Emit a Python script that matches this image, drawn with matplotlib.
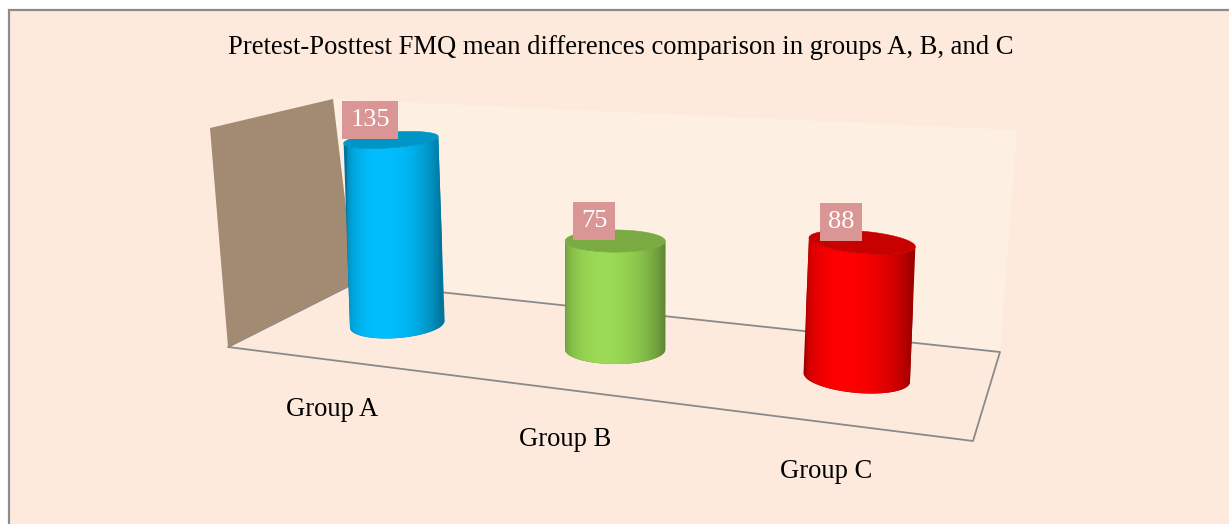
import numpy as np
import matplotlib.pyplot as plt
from matplotlib.patches import Polygon, Rectangle
from matplotlib.colors import to_rgb

# chart data
categories = ["Group A", "Group B", "Group C"]
values = [135, 75, 88]
value_labels = ["135", "75", "88"]
bar_colors = ["#00BFFF", "#9BDB55", "#FF0000"]
axis_max = 150
title = "Pretest-Posttest FMQ mean differences comparison in groups A, B, and C"

plt.rcParams["font.family"] = ["Liberation Serif", "DejaVu Serif"]

# pixel corners of the 3D plot box (floor and wall tops)
BL, BR, FR, FL = (355, 283), (1000, 352), (973, 441), (228, 347)
BLt, BRt, FLt = (333, 99), (1017, 130), (210, 128)
# vertical vanishing point and height scale (px for axis_max vs floor y)
VP = (610, 6490)
H0, H_SLOPE, Y0 = 185.0, 0.48, 283.0
# cylinder radius relative to the height scale, floor foreshortening,
# horizon the ellipses flatten towards, and ellipse tilt away from centre
RADIUS = 0.231
FLAT0, Y_HORIZON = 0.29, -107.0
TILT_K = 0.00034


def homography(dst):
    src = [(0, 0), (1, 0), (1, 1), (0, 1)]
    A, b = [], []
    for (x, y), (u, v) in zip(src, dst):
        A.append([x, y, 1, 0, 0, 0, -u * x, -u * y])
        b.append(u)
        A.append([0, 0, 0, x, y, 1, -v * x, -v * y])
        b.append(v)
    h = np.linalg.solve(np.array(A, float), np.array(b, float))
    return np.append(h, 1).reshape(3, 3)


H_floor = homography([BL, BR, FR, FL])


def floor_xy(s, t):
    H = H_floor
    w = H[2, 0] * s + H[2, 1] * t + H[2, 2]
    x = (H[0, 0] * s + H[0, 1] * t + H[0, 2]) / w
    y = (H[1, 0] * s + H[1, 1] * t + H[1, 2]) / w
    return np.array([x, y])


def full_height(y):
    return H0 + H_SLOPE * (y - Y0)


def project(s, t, z):
    fx, fy = floor_xy(s, t)
    h = z / axis_max * full_height(fy)
    dx = (fx - VP[0]) / (VP[1] - fy)
    return np.array([fx + h * dx, fy - h])


fig = plt.figure(figsize=(12.29, 5.24), dpi=100, facecolor="white")
ax = fig.add_axes([0, 0, 1, 1])
ax.set_xlim(0, 1229)
ax.set_ylim(524, 0)
ax.axis("off")

# chart area
ax.add_patch(Rectangle((8.5, 9.5), 1300, 600, facecolor="#FDEADD",
                       edgecolor="#8C8C8C", linewidth=1.6, zorder=0))

# walls and floor
ax.add_patch(Polygon([BL, BR, BRt, BLt], closed=True, facecolor="#FEEFE3",
                     edgecolor="none", zorder=1))
floor_x, floor_y = zip(BL, BR, FR, FL, BL)
ax.plot(floor_x, floor_y, color="#8A8A8A", linewidth=1.3, zorder=2)
ax.add_patch(Polygon([FL, BL, BLt, FLt], closed=True, facecolor="#A38A73",
                     edgecolor="none", zorder=3))

# cylinders
light = np.array([-0.25, 1.0])
light = light / np.linalg.norm(light)
theta = np.linspace(0, 2 * np.pi, 241)
front = np.linspace(0, np.pi, 121)
n_cat = len(categories)

# horizontal shading profile across a cylinder (left edge to right edge)
cos_x = np.linspace(-1, 1, 400)
sin_x = np.sqrt(1 - cos_x ** 2)
shade = 0.62 + 0.38 * np.clip(cos_x * light[0] + sin_x * light[1], 0, 1) ** 1.2

for i, (val, col) in enumerate(zip(values, bar_colors)):
    sc = (i + 0.5) / n_cat
    tc = 0.5
    c0 = floor_xy(sc, tc)
    c1 = project(sc, tc, val)
    r = RADIUS * full_height(c0[1])
    tilt = TILT_K * (c0[0] - VP[0])
    b0 = FLAT0 * r
    b1 = b0 * (c1[1] - Y_HORIZON) / (c0[1] - Y_HORIZON)
    base = np.array(to_rgb(col))
    z = 4 + i

    def ellipse(c, b, ang):
        return np.column_stack([c[0] + r * np.cos(ang),
                                c[1] + r * tilt * np.cos(ang) + b * np.sin(ang)])

    # side: front half of bottom ellipse, back along front half of top
    side_pts = np.vstack([ellipse(c0, b0, front), ellipse(c1, b1, front[::-1])])
    side = Polygon(side_pts, closed=True, facecolor=base * 0.62,
                   edgecolor="none", zorder=z)
    ax.add_patch(side)
    xm = 0.5 * (c0[0] + c1[0])
    img = np.clip(base[None, None, :] * shade[None, :, None], 0, 1)
    im = ax.imshow(img, extent=(xm - r, xm + r, c0[1] + b0 + 2, c1[1] - b1 - 2),
                   aspect="auto", interpolation="bilinear", zorder=z + 0.1)
    im.set_clip_path(side)

    top = ellipse(c1, b1, theta)
    ax.add_patch(Polygon(top, closed=True, facecolor=base * 0.78,
                         edgecolor=base * 0.78, linewidth=0.4, zorder=z + 0.2))

    # value label
    ax.annotate(value_labels[i], tuple(c1), xytext=(-21, 20),
                textcoords="offset pixels", ha="center", va="center",
                fontsize=19, color="white", zorder=10,
                bbox=dict(boxstyle="square,pad=0.3", facecolor="#D99694",
                          edgecolor="none"))

    # category label
    fx, fy = floor_xy(sc, 1.0)
    ax.annotate(categories[i], (fx, fy), xytext=(-4, -49),
                textcoords="offset pixels", ha="center", va="center",
                fontsize=19.2, color="black", zorder=10)

ax.text(621, 47, title, ha="center", va="center", fontsize=19.2, color="black")

ax.set_xlim(0, 1229)
ax.set_ylim(524, 0)
fig.savefig("out.png", dpi=100, facecolor="white")
